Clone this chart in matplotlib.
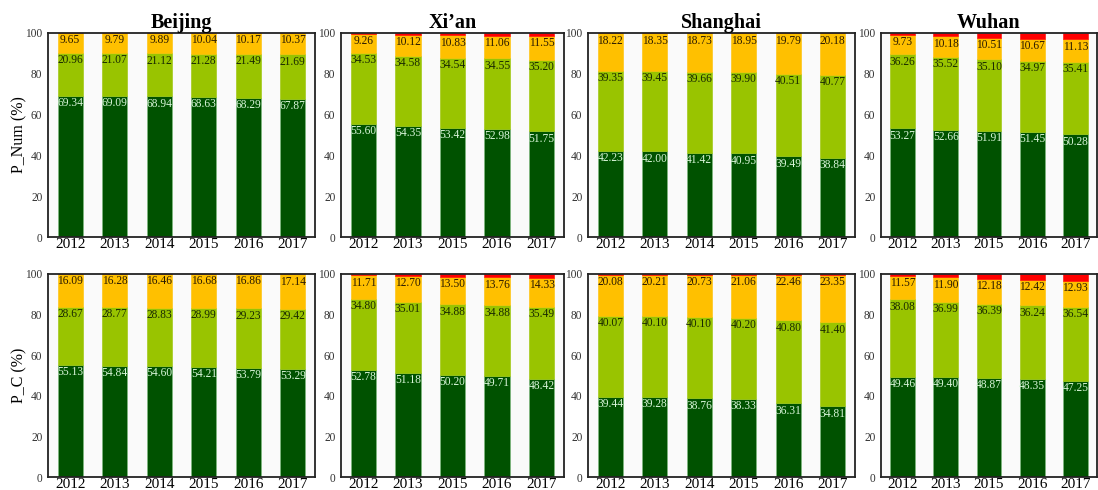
import matplotlib
matplotlib.use("Agg")
import matplotlib.pyplot as plt
import numpy as np

plt.rcParams["font.family"] = ["Liberation Serif", "DejaVu Serif"]

cities = ["Beijing", "Xi\u2019an", "Shanghai", "Wuhan"]
years = {
    "Beijing": ["2012", "2013", "2014", "2015", "2016", "2017"],
    "Xi\u2019an": ["2012", "2013", "2015", "2016", "2017"],
    "Shanghai": ["2012", "2013", "2014", "2015", "2016", "2017"],
    "Wuhan": ["2012", "2013", "2015", "2016", "2017"],
}

# P_Num (%): dark green / light green / orange / red classes
num_dark = {
    "Beijing": [69.34, 69.09, 68.94, 68.63, 68.29, 67.87],
    "Xi\u2019an": [55.60, 54.35, 53.42, 52.98, 51.75],
    "Shanghai": [42.23, 42.00, 41.42, 40.95, 39.49, 38.84],
    "Wuhan": [53.27, 52.66, 51.91, 51.45, 50.28],
}
num_light = {
    "Beijing": [20.96, 21.07, 21.12, 21.28, 21.49, 21.69],
    "Xi\u2019an": [34.53, 34.58, 34.54, 34.55, 35.20],
    "Shanghai": [39.35, 39.45, 39.66, 39.90, 40.51, 40.77],
    "Wuhan": [36.26, 35.52, 35.10, 34.97, 35.41],
}
num_orange = {
    "Beijing": [9.65, 9.79, 9.89, 10.04, 10.17, 10.37],
    "Xi\u2019an": [9.26, 10.12, 10.83, 11.06, 11.55],
    "Shanghai": [18.22, 18.35, 18.73, 18.95, 19.79, 20.18],
    "Wuhan": [9.73, 10.18, 10.51, 10.67, 11.13],
}
num_red = {
    "Beijing": [0.05, 0.05, 0.05, 0.05, 0.05, 0.07],
    "Xi\u2019an": [0.61, 0.95, 1.21, 1.41, 1.50],
    "Shanghai": [0.20, 0.20, 0.19, 0.20, 0.21, 0.21],
    "Wuhan": [0.74, 1.64, 2.48, 2.91, 3.18],
}

# P_C (%)
c_dark = {
    "Beijing": [55.13, 54.84, 54.60, 54.21, 53.79, 53.29],
    "Xi\u2019an": [52.78, 51.18, 50.20, 49.71, 48.42],
    "Shanghai": [39.44, 39.28, 38.76, 38.33, 36.31, 34.81],
    "Wuhan": [49.46, 49.40, 48.87, 48.35, 47.25],
}
c_light = {
    "Beijing": [28.67, 28.77, 28.83, 28.99, 29.23, 29.42],
    "Xi\u2019an": [34.80, 35.01, 34.88, 34.88, 35.49],
    "Shanghai": [40.07, 40.10, 40.10, 40.20, 40.80, 41.40],
    "Wuhan": [38.08, 36.99, 36.39, 36.24, 36.54],
}
c_orange = {
    "Beijing": [16.09, 16.28, 16.46, 16.68, 16.86, 17.14],
    "Xi\u2019an": [11.71, 12.70, 13.50, 13.76, 14.33],
    "Shanghai": [20.08, 20.21, 20.73, 21.06, 22.46, 23.35],
    "Wuhan": [11.57, 11.90, 12.18, 12.42, 12.93],
}
c_red = {
    "Beijing": [0.11, 0.11, 0.11, 0.12, 0.12, 0.15],
    "Xi\u2019an": [0.71, 1.11, 1.42, 1.65, 1.76],
    "Shanghai": [0.41, 0.41, 0.41, 0.41, 0.43, 0.44],
    "Wuhan": [0.89, 1.71, 2.56, 2.99, 3.28],
}

colors = ["#005200", "#99c400", "#ffc000", "#ff0000"]
label_colors = ["#d8f5d8", "#1a2a00", "#2a1a00", None]

W, H = 1098, 490
fig = plt.figure(figsize=(W / 100, H / 100), dpi=100)

# panel extents in pixels: (left, right) and (top, bottom)
cols_px = [(48, 315), (341, 564), (588, 855), (881, 1097)]
rows_px = [(33, 237), (274, 477)]
rows = [
    ("P_Num (%)", [num_dark, num_light, num_orange, num_red]),
    ("P_C (%)", [c_dark, c_light, c_orange, c_red]),
]

for r, (ylabel, layers) in enumerate(rows):
    top, bottom = rows_px[r]
    for c, city in enumerate(cities):
        left, right = cols_px[c]
        ax = fig.add_axes([left / W, 1 - bottom / H, (right - left) / W, (bottom - top) / H])
        ax.set_facecolor("#fafafa")
        x = np.arange(len(years[city]))
        base = np.zeros(len(x))
        for k, layer in enumerate(layers):
            vals = np.array(layer[city])
            ax.bar(x, vals, bottom=base, width=0.57, color=colors[k],
                   edgecolor="#7fbf7f" if k == 0 else colors[k], linewidth=0.4)
            if label_colors[k] is not None:
                for xi, b, v in zip(x, base, vals):
                    ax.text(xi, b + v - 0.6, f"{v:.2f}", ha="center", va="top",
                            fontsize=8.3, color=label_colors[k])
            base = base + vals
        ax.set_xlim(-0.5, len(x) - 0.5)
        ax.set_ylim(0, 100)
        ax.set_yticks(np.arange(0, 101, 20))
        ax.set_xticks(x)
        ax.set_xticklabels(years[city])
        ax.tick_params(axis="y", length=0, labelsize=8.3, labelcolor="#333333", pad=4)
        ax.tick_params(axis="x", length=0, labelsize=11, pad=1)
        for s in ax.spines.values():
            s.set_linewidth(1.3)
            s.set_color("#222222")
        if r == 0:
            ax.set_title(city, fontsize=14.5, fontweight="bold", pad=3)
        if c == 0:
            ax.set_ylabel(ylabel, fontsize=11.5)
            ax.yaxis.set_label_coords(-0.079, 0.5)

fig.savefig("out.png", dpi=100, facecolor="white")
